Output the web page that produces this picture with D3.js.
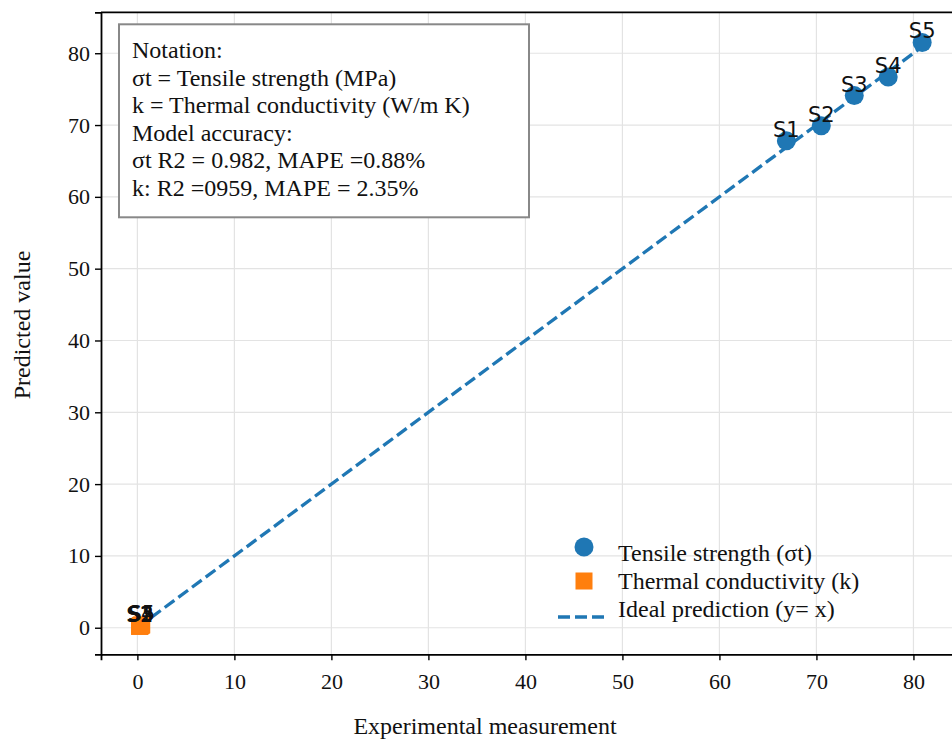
<!DOCTYPE html>
<html>
<head>
<meta charset="utf-8">
<script src="https://cdn.jsdelivr.net/npm/d3@7"></script>
<style>
  body { margin: 0; background: #fff; }
  svg { display: block; }
  .tick text { font-family: "Liberation Serif", "Times New Roman", serif; font-size: 22px; fill: #111; }
</style>
</head>
<body>
<div id="chart"></div>
<script>
// Sample labels
const sampleLabels = ['S1', 'S2', 'S3', 'S4', 'S5'];

// Tensile strength (MPa): experimental vs predicted
const tensileExp = [66.9, 70.5, 73.9, 77.4, 80.9];
const tensilePred = [67.8, 69.9, 74.1, 76.7, 81.5];

// Thermal conductivity (W/m K): experimental vs predicted
const thermalExp = [0.22, 0.28, 0.33, 0.38, 0.45];
const thermalPred = [0.18, 0.24, 0.29, 0.33, 0.40];

// Ideal prediction line endpoints (y = x)
const idealRange = [0, 81.3];

const xTicks = [0, 10, 20, 30, 40, 50, 60, 70, 80];
const yTicks = [0, 10, 20, 30, 40, 50, 60, 70, 80];

const notationLines = [
  'Notation:',
  'σt = Tensile strength (MPa)',
  'k = Thermal conductivity (W/m K)',
  'Model accuracy:',
  'σt R2 = 0.982, MAPE =0.88%',
  'k: R2 =0959, MAPE = 2.35%'
];

const legendItems = ['Tensile strength (σt)', 'Thermal conductivity (k)', 'Ideal prediction (y= x)'];

const width = 952, height = 739;
const blue = '#1f77b4', orange = '#ff7f0e';
const serif = '"Liberation Serif", "Times New Roman", serif';

const svg = d3.select('#chart').append('svg')
  .attr('width', width)
  .attr('height', height);

// Plot area runs past the right edge (cropped like the reference)
const plot = { left: 101, top: 12.3, right: 960, bottom: 654.3 };

const x = d3.scaleLinear().domain([-3.75, 84.8]).range([plot.left, plot.right]);
const y = d3.scaleLinear().domain([-3.7, 85.7]).range([plot.bottom, plot.top]);

// Gridlines
svg.append('g')
  .selectAll('line.vgrid')
  .data(xTicks)
  .enter().append('line')
  .attr('x1', d => x(d)).attr('x2', d => x(d))
  .attr('y1', plot.top).attr('y2', plot.bottom)
  .attr('stroke', '#e3e3e3').attr('stroke-width', 1.2);

svg.append('g')
  .selectAll('line.hgrid')
  .data(yTicks)
  .enter().append('line')
  .attr('x1', plot.left).attr('x2', plot.right)
  .attr('y1', d => y(d)).attr('y2', d => y(d))
  .attr('stroke', '#e3e3e3').attr('stroke-width', 1.2);

// Ideal line
svg.append('line')
  .attr('x1', x(idealRange[0])).attr('y1', y(idealRange[0]))
  .attr('x2', x(idealRange[1])).attr('y2', y(idealRange[1]))
  .attr('stroke', blue)
  .attr('stroke-width', 3.3)
  .attr('stroke-dasharray', '12,5');

const tensile = sampleLabels.map((s, i) => ({ label: s, ex: tensileExp[i], pr: tensilePred[i] }));
const thermal = sampleLabels.map((s, i) => ({ label: s, ex: thermalExp[i], pr: thermalPred[i] }));

// Tensile points
svg.append('g').selectAll('circle')
  .data(tensile)
  .enter().append('circle')
  .attr('cx', d => x(d.ex))
  .attr('cy', d => y(d.pr))
  .attr('r', 9.5)
  .attr('fill', blue);

// Thermal points
svg.append('g').selectAll('rect')
  .data(thermal)
  .enter().append('rect')
  .attr('x', d => x(d.ex) - 8.5)
  .attr('y', d => y(d.pr) - 8.5)
  .attr('width', 17)
  .attr('height', 17)
  .attr('fill', orange);

// Point labels
svg.append('g').selectAll('text')
  .data(tensile.concat(thermal))
  .enter().append('text')
  .attr('x', d => x(d.ex))
  .attr('y', d => y(d.pr) - 4)
  .attr('text-anchor', 'middle')
  .style('font-family', '"DejaVu Sans", sans-serif')
  .style('font-size', '21px')
  .style('fill', '#111')
  .text(d => d.label);

// Axes
const xAxis = svg.append('g')
  .attr('transform', `translate(0,${plot.bottom})`)
  .call(d3.axisBottom(x).tickValues(xTicks).tickSize(6).tickPadding(0));
xAxis.select('.domain').attr('stroke', '#000').attr('stroke-width', 1.8);
xAxis.selectAll('.tick line').attr('stroke', '#000').attr('stroke-width', 1.4);
xAxis.selectAll('.tick text').attr('y', 35).attr('dy', 0);

const yAxis = svg.append('g')
  .attr('transform', `translate(${plot.left},0)`)
  .call(d3.axisLeft(y).tickValues(yTicks).tickSize(6).tickPadding(5));
yAxis.select('.domain').attr('stroke', '#000').attr('stroke-width', 1.8);
yAxis.selectAll('.tick line').attr('stroke', '#000').attr('stroke-width', 1.4);

// Top spine
svg.append('line')
  .attr('x1', plot.left).attr('x2', plot.right)
  .attr('y1', plot.top).attr('y2', plot.top)
  .attr('stroke', '#000').attr('stroke-width', 1.8);

// Axis titles
svg.append('text')
  .attr('x', 485).attr('y', 734)
  .attr('text-anchor', 'middle')
  .style('font-family', serif).style('font-size', '24px').style('fill', '#111')
  .text('Experimental measurement');

svg.append('text')
  .attr('transform', 'translate(30,325) rotate(-90)')
  .attr('text-anchor', 'middle')
  .style('font-family', serif).style('font-size', '24px').style('fill', '#111')
  .text('Predicted value');

// Notation box
svg.append('rect')
  .attr('x', 119).attr('y', 24.3)
  .attr('width', 410).attr('height', 193)
  .attr('fill', '#fff')
  .attr('stroke', '#888')
  .attr('stroke-width', 2);

svg.append('g').selectAll('text')
  .data(notationLines)
  .enter().append('text')
  .attr('x', 132)
  .attr('y', (d, i) => 58 + i * 27.6)
  .style('font-family', serif).style('font-size', '24px').style('fill', '#111')
  .text(d => d);

// Legend
const legend = svg.append('g');
legend.append('circle').attr('cx', 584).attr('cy', 547).attr('r', 9.5).attr('fill', blue);
legend.append('rect').attr('x', 575.5).attr('y', 572.5).attr('width', 17).attr('height', 17).attr('fill', orange);
legend.append('line')
  .attr('x1', 558).attr('x2', 609).attr('y1', 617).attr('y2', 617)
  .attr('stroke', blue).attr('stroke-width', 3.3).attr('stroke-dasharray', '12,5');
legend.selectAll('text.leg')
  .data(legendItems)
  .enter().append('text')
  .attr('x', 618)
  .attr('y', (d, i) => 560.5 + i * 28)
  .style('font-family', serif).style('font-size', '24px').style('fill', '#111')
  .text(d => d);
</script>
</body>
</html>
